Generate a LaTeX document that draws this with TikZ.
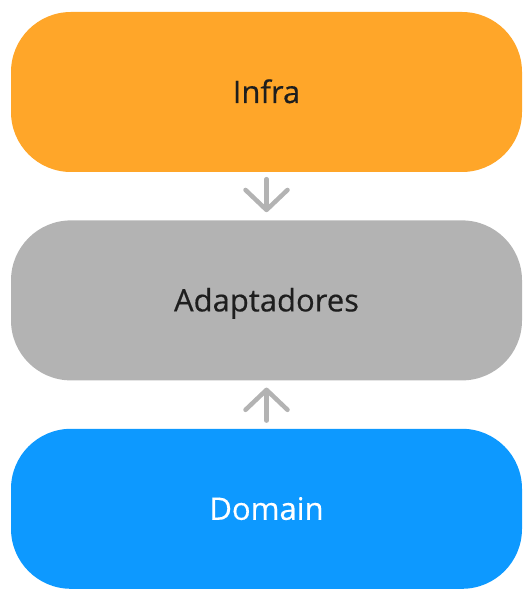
\documentclass[tikz,border=0pt]{standalone}
\usepackage{fontspec}
\setmainfont{Open Sans}
\newfontfamily\layerfont{Open Sans}[FakeBold=0.4]
\usetikzlibrary{arrows.meta, positioning}
\definecolor{infraorange}{HTML}{FFA629}
\definecolor{adaptgray}{HTML}{B3B3B3}
\definecolor{domainblue}{HTML}{0D99FF}
\definecolor{darktext}{HTML}{1E1E1E}

\tikzset{
  layer/.style={rounded corners=60pt, minimum width=511pt, minimum height=160pt,
    inner sep=0pt, text height=22pt, text depth=0pt,
    font=\fontsize{31}{36}\selectfont\layerfont},
  flow/.style={adaptgray, line width=4.5pt, line cap=round,
    -{Straight Barb[length=20pt, width=42pt, round]}}
}

\begin{document}
\begin{tikzpicture}[x=1pt, y=1pt]
  \useasboundingbox (0,0) rectangle (531,597);
  \node[layer, fill=infraorange, text=darktext] (infra) at (266.5,505) {Infra};
  \node[layer, fill=adaptgray, text=darktext, below=48pt of infra] (adapt) {Adaptadores};
  \node[layer, fill=domainblue, text=white, below=48pt of adapt] (domain) {Domain};
  % setas entre camadas
  \draw[flow, shorten <=7pt, shorten >=8pt] (infra) -- (adapt);
  \draw[flow, shorten <=8pt, shorten >=7pt] (domain) -- (adapt);
\end{tikzpicture}
\end{document}
